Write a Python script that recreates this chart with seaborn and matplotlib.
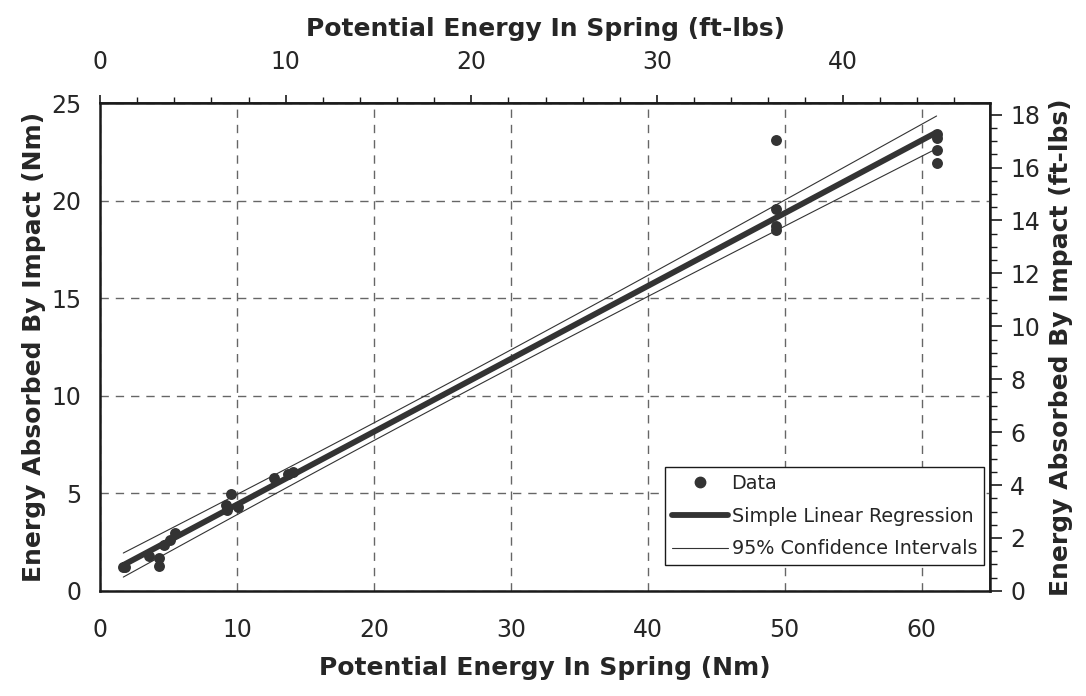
import numpy as np
import pandas as pd
import matplotlib
matplotlib.use("Agg")
import matplotlib.pyplot as plt
from matplotlib.ticker import MultipleLocator, FixedLocator
from matplotlib.lines import Line2D
import seaborn as sns

# Data (Nm)
spring_nm = [1.7, 1.8, 3.6, 4.3, 4.3, 4.7, 5.1, 5.5, 9.2, 9.3, 9.6, 10.1, 12.7, 13.7, 14.1,
             49.4, 49.4, 49.4, 49.4, 61.1, 61.1, 61.1, 61.1]
absorbed_nm = [1.2, 1.25, 1.8, 1.68, 1.26, 2.36, 2.62, 2.96, 4.4, 4.15, 4.95, 4.3, 5.8, 5.97, 6.1,
               23.1, 19.55, 18.7, 18.5, 23.4, 23.2, 22.6, 21.95]

top_ticks_ftlb = [0, 10, 20, 30, 40]
right_ticks_ftlb = [0, 2, 4, 6, 8, 10, 12, 14, 16, 18]

NM_TO_FTLB = 0.737562

sns.set_theme(style="white")
plt.rcParams['font.family'] = ['DejaVu Sans']

df = pd.DataFrame({"x": spring_nm, "y": absorbed_nm})

# linear regression with 95% confidence interval of the mean
x = np.array(spring_nm); y = np.array(absorbed_nm)
n = len(x)
b1, b0 = np.polyfit(x, y, 1)
resid = y - (b0 + b1 * x)
s = np.sqrt(np.sum(resid ** 2) / (n - 2))
tval = 2.08  # t(0.975, n-2)
xx = np.linspace(x.min(), x.max(), 100)
yy = b0 + b1 * xx
se = s * np.sqrt(1 / n + (xx - x.mean()) ** 2 / np.sum((x - x.mean()) ** 2))
fit = pd.DataFrame({"x": xx, "y": yy, "lo": yy - tval * se, "hi": yy + tval * se})

col = "#333333"
tickcol = "#1a1a1a"
fig = plt.figure(figsize=(10.86, 6.96), dpi=100)
ax = fig.add_axes([0.0921, 0.151, 0.8195, 0.701])

sns.lineplot(data=fit, x="x", y="lo", ax=ax, color=col, lw=0.8)
sns.lineplot(data=fit, x="x", y="hi", ax=ax, color=col, lw=0.8)
sns.lineplot(data=fit, x="x", y="y", ax=ax, color=col, lw=4.2, solid_capstyle="butt")
sns.scatterplot(data=df, x="x", y="y", ax=ax, color=col, s=62, edgecolor=col, linewidth=0, zorder=5)

ax.set_xlim(0, 65)
ax.set_ylim(0, 25)
ax.xaxis.set_major_locator(MultipleLocator(10))
ax.xaxis.set_minor_locator(MultipleLocator(2))
ax.yaxis.set_major_locator(MultipleLocator(5))
ax.yaxis.set_minor_locator(MultipleLocator(1))
ax.grid(True, which="major", color="#666666", linestyle=(0, (6, 5)), lw=1.0)
ax.tick_params(axis="x", which="major", direction="inout", length=11.5, width=1.2,
               labelsize=17, pad=14, color=tickcol)
ax.tick_params(axis="x", which="minor", direction="out", length=4.3, width=1.0, color=tickcol)
ax.tick_params(axis="y", which="major", direction="inout", length=14.4, width=1.2,
               labelsize=17, pad=6, color=tickcol)
ax.tick_params(axis="y", which="minor", direction="out", length=7.2, width=1.0, color=tickcol)
for sp in ax.spines.values():
    sp.set_color(tickcol); sp.set_linewidth(1.8)

ax.set_xlabel("Potential Energy In Spring (Nm)", fontsize=18, fontweight="bold", labelpad=10)
ax.set_ylabel("Energy Absorbed By Impact (Nm)", fontsize=18, fontweight="bold", labelpad=4)

f = lambda v: v * NM_TO_FTLB
fi = lambda v: v / NM_TO_FTLB
topax = ax.secondary_xaxis("top", functions=(f, fi))
topax.xaxis.set_major_locator(FixedLocator(top_ticks_ftlb))
topax.xaxis.set_minor_locator(FixedLocator(np.arange(0, 48, 2)))
topax.tick_params(which="major", direction="out", length=5.8, width=1.2, labelsize=17, pad=15, color=tickcol)
topax.tick_params(which="minor", direction="out", length=4.3, width=1.0, color=tickcol)
topax.set_xlabel("Potential Energy In Spring (ft-lbs)", fontsize=18, fontweight="bold", labelpad=10)

rax = ax.secondary_yaxis("right", functions=(f, fi))
rax.yaxis.set_major_locator(FixedLocator(right_ticks_ftlb))
rax.yaxis.set_minor_locator(FixedLocator(np.arange(0, 18.5, 0.5)))
rax.tick_params(which="major", direction="out", length=8.6, width=1.2, labelsize=17, pad=6, color=tickcol)
rax.tick_params(which="minor", direction="out", length=5, width=1.0, color=tickcol)
rax.set_ylabel("Energy Absorbed By Impact (ft-lbs)", fontsize=18, fontweight="bold", labelpad=6)

handles = [
    Line2D([], [], marker="o", color=col, ls="none", markersize=7.5),
    Line2D([], [], color=col, lw=4.2),
    Line2D([], [], color=col, lw=0.8),
]
labels = ["Data", "Simple Linear Regression", "95% Confidence Intervals"]
leg = ax.legend(handles, labels, loc="lower right", bbox_to_anchor=(0.993, 0.053),
                fontsize=13.8, frameon=True, fancybox=False, framealpha=1,
                edgecolor=tickcol, handlelength=2.9, handletextpad=0.2,
                borderpad=0.35, labelspacing=0.72, borderaxespad=0)
leg.get_frame().set_linewidth(1.0)

fig.savefig("out.png", dpi=100)
